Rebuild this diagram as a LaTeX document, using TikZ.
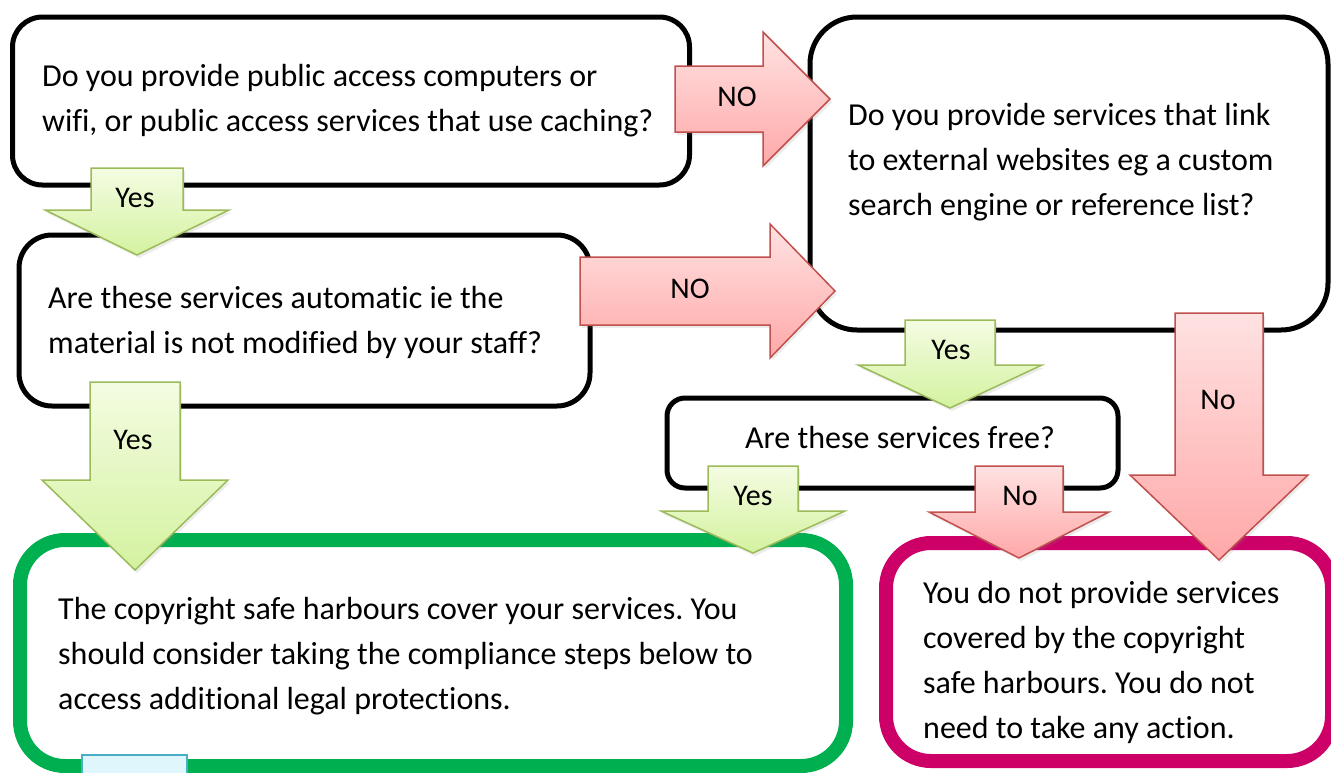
\documentclass[tikz,border=0pt]{standalone}
\usepackage{fontspec}
\setmainfont{Carlito}[Ligatures=NoCommon]
\usetikzlibrary{positioning}
\usetikzlibrary{shadows}

\definecolor{yesborder}{RGB}{155,187,89}
\definecolor{yestop}{RGB}{244,252,226}
\definecolor{yesbottom}{RGB}{212,242,160}
\definecolor{noborder}{RGB}{192,80,77}
\definecolor{notop}{RGB}{255,226,226}
\definecolor{nobottom}{RGB}{255,168,168}
\definecolor{safegreen}{RGB}{0,176,80}
\definecolor{nonemagenta}{RGB}{204,0,102}
\definecolor{stepfill}{RGB}{222,246,252}
\definecolor{stepborder}{RGB}{75,172,198}

\newcommand{\qfont}{\fontsize{32}{45}\selectfont}
\newcommand{\lblfont}{\fontsize{30}{40}\selectfont}

% block arrows: style, x, shaft half width, top, head base, head half width, tip
\newcommand{\downblock}[7]{%
  \draw [#1] (#2-#3,#4) -- (#2+#3,#4) -- (#2+#3,#5) -- (#2+#6,#5) -- (#2,#7)
    -- (#2-#6,#5) -- (#2-#3,#5) -- cycle;}
% style, y, shaft half width, left, head base, head half width, tip
\newcommand{\rightblock}[7]{%
  \draw [#1] (#4,#2-#3) -- (#5,#2-#3) -- (#5,#2-#6) -- (#7,#2) -- (#5,#2+#6)
    -- (#5,#2+#3) -- (#4,#2+#3) -- cycle;}

\tikzset{
  qbox/.style={draw, line width=5pt, inner sep=0pt},
  endbox/.style={draw, line width=14pt, inner sep=0pt, rounded corners=45pt},
  qtext/.style={anchor=west, inner sep=0pt, align=left, font=\qfont},
  lbl/.style={inner sep=0pt, font=\lblfont},
  yesarrow/.style={draw=yesborder, line width=1.5pt, top color=yestop, bottom color=yesbottom,
    drop shadow={opacity=0.15, shadow xshift=2pt, shadow yshift=-3pt}},
  noarrow/.style={draw=noborder, line width=1.5pt, top color=notop, bottom color=nobottom,
    drop shadow={opacity=0.15, shadow xshift=2pt, shadow yshift=-3pt}}
}

\begin{document}
\frenchspacing
\begin{tikzpicture}[x=1pt, y=-1pt]
  \useasboundingbox (0,0) rectangle (1331,772);
  \clip (0,0) rectangle (1331,772);

  % question boxes
  \node [qbox, rounded corners=30pt, minimum width=677pt, minimum height=168pt] (access) at (351,101) {};
  \node [qbox, rounded corners=47pt, minimum width=518pt, minimum height=313pt] (links) at (1069,173.5) {};
  \node [qbox, rounded corners=33pt, minimum width=571pt, minimum height=171pt] (automatic) at (304.5,320.5) {};
  \node [qbox, rounded corners=18pt, minimum width=451pt, minimum height=90pt] (free) at (892.5,443) {};

  % outcome boxes
  \node [endbox, draw=safegreen, minimum width=826pt, minimum height=226pt] (covered) at (433,653) {};
  \node [endbox, draw=nonemagenta, minimum width=446pt, minimum height=218pt] (notcovered) at (1109,652) {};
  \node [draw=stepborder, fill=stepfill, line width=1.5pt, minimum width=105pt, minimum height=40pt, inner sep=0pt] (step1) at (134.5,775) {};

  % texts
  \node [qtext] (accesstext) at (42,101) {Do you provide public access computers or\\wifi, or public access services that use caching?};
  \node [qtext] (linkstext) at (848,162) {Do you provide services that link\\to external websites eg a custom\\search engine or reference list?};
  \node [qtext] (automatictext) at (48,322) {Are these services automatic ie the\\material is not modified by your staff?};
  \node [inner sep=0pt, font=\qfont] (freetext) at (900,437) {Are these services free?};
  \node [qtext] (coveredtext) at (58,656) {The copyright safe harbours cover your services. You\\should consider taking the compliance steps below to\\access additional legal protections.};
  \node [qtext] (notcoveredtext) at (923,662) {You do not provide services\\covered by the copyright\\safe harbours. You do not\\need to take any action.};

  % arrows
  \rightblock{noarrow}{99}{33}{675}{763}{67}{830}
  \node [lbl] (no1) at (737,97) {NO};
  \rightblock{noarrow}{291}{34}{580}{770}{67}{835}
  \node [lbl] (no2) at (690,289) {NO};

  \downblock{yesarrow}{137}{46}{168}{210}{92}{255}
  \node [lbl] (yes1) at (135,198) {Yes};
  \downblock{yesarrow}{135}{45}{382}{480}{93}{570}
  \node [lbl] (yes2) at (133,440) {Yes};
  \downblock{yesarrow}{950}{45}{320}{365}{92}{408}
  \node [lbl] (yes3) at (951,350) {Yes};
  \downblock{noarrow}{1219}{44}{313}{475}{89}{560}
  \node [lbl] (no3) at (1218,400) {No};
  \downblock{yesarrow}{753}{45}{466}{511}{92}{553}
  \node [lbl] (yes4) at (753,496) {Yes};
  \downblock{noarrow}{1019}{44}{466}{512}{90}{558}
  \node [lbl] (no4) at (1020,496) {No};

\end{tikzpicture}
\end{document}
